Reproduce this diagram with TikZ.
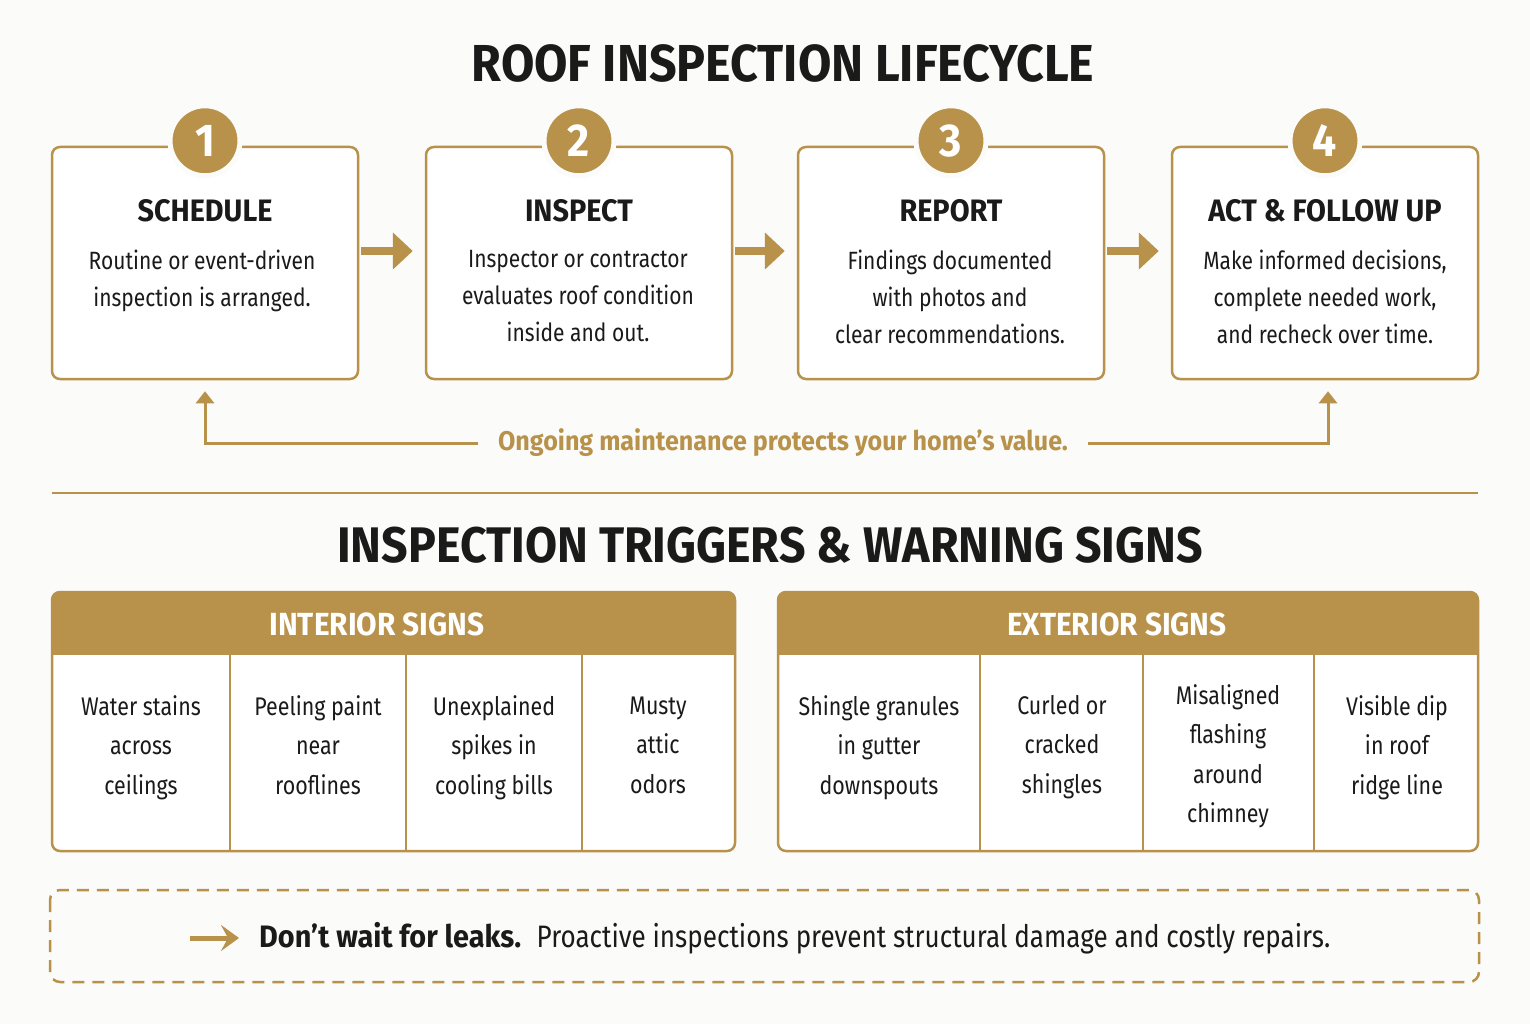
\documentclass[tikz,border=0pt]{standalone}
\usepackage{fontspec}
\setmainfont{Fira Sans}[FakeStretch=0.84, BoldFeatures={FakeStretch=0.93}]
\usetikzlibrary{arrows.meta,positioning}
\definecolor{gold}{RGB}{184,146,74}
\definecolor{ink}{RGB}{26,26,26}
\definecolor{paper}{RGB}{251,251,250}
\newcommand{\fs}[2]{\fontsize{#1}{#2}\selectfont}

\begin{document}
\begin{tikzpicture}[x=1pt,y=-1pt,
  stepbox/.style={draw=gold, line width=2.5pt, fill=white, rounded corners=8pt,
    minimum width=306pt, minimum height=232pt},
  numdot/.style={circle, fill=gold, draw=paper, line width=5pt, minimum size=70pt,
    inner sep=0pt, text=white, font=\bfseries\fs{46}{46}},
  steptitle/.style={text=ink, font=\bfseries\fs{31}{31}},
  steptext/.style={text=ink, align=center, anchor=north, inner sep=0pt, font=\fs{25}{37}},
  flow/.style={gold, line width=8pt, -{Triangle[length=20pt,width=36pt]}},
  loopline/.style={gold, line width=3pt, -{Triangle[length=12pt,width=18pt]}},
  heading/.style={text=ink, font=\bfseries\fs{52}{52}},
  bandtext/.style={text=white, font=\bfseries\fs{32}{32}},
  signtext/.style={text=ink, align=center, anchor=north, inner sep=0pt, font=\fs{25.5}{39.5}}]

\useasboundingbox (0,0) rectangle (1530,1024);
\fill[paper] (0,0) rectangle (1530,1024);

\node[heading] (title1) at (783,63) {ROOF INSPECTION LIFECYCLE};

% lifecycle steps
\node[stepbox] (b1) at (205,263) {};
\node[stepbox] (b2) at (579,263) {};
\node[stepbox] (b3) at (951,263) {};
\node[stepbox] (b4) at (1325,263) {};

\foreach \b/\n in {b1/1,b2/2,b3/3,b4/4}
  \node[numdot] (n\n) at ([yshift=5pt]\b.north) {\n};

\node[steptitle] (t1) at (205,211) {SCHEDULE};
\node[steptitle] (t2) at (579,211) {INSPECT};
\node[steptitle] (t3) at (951,211) {REPORT};
\node[steptitle] (t4) at (1325,211) {ACT \& FOLLOW UP};

\node[steptext] (d1) at (202,250) {Routine or event-driven\\inspection is arranged.};
\node[steptext] (d2) at (578,250) {Inspector or contractor\\evaluates roof condition\\inside and out.};
\node[steptext] (d3) at (950,250) {Findings documented\\with photos and\\clear recommendations.};
\node[steptext] (d4) at (1325,250) {Make informed decisions,\\complete needed work,\\and recheck over time.};

\draw[flow, shorten <=2pt, shorten >=12pt] ([yshift=12pt]b1.east) -- ([yshift=12pt]b2.west);
\draw[flow, shorten <=2pt, shorten >=12pt] ([yshift=12pt]b2.east) -- ([yshift=12pt]b3.west);
\draw[flow, shorten <=2pt, shorten >=12pt] ([yshift=12pt]b3.east) -- ([yshift=12pt]b4.west);

% maintenance loop
\node[text=gold, font=\bfseries\fs{27}{27}, inner sep=20pt] (loop) at (783,443)
  {Ongoing maintenance protects your home’s value.};
\coordinate (loopL) at (205,443);
\coordinate (loopR) at (1328,443);
\draw[loopline] (loop.west) -- (loopL) -- ([yshift=-11pt]b1.south);
\draw[loopline] (loop.east) -- (loopR) -- ([yshift=-11pt]b4.south -| loopR);

\draw[gold, line width=2pt] (52,493) -- (1478,493);

\node[heading, font=\bfseries\fs{50}{50}] (title2) at (770,545) {INSPECTION TRIGGERS \& WARNING SIGNS};

% interior signs
\fill[white, rounded corners=8pt] (52,592) rectangle (735,851);
\fill[gold, rounded corners=8pt] (52,592) rectangle (735,640);
\fill[gold] (52,620) rectangle (735,655);
\draw[gold, line width=2.5pt] (230,655) -- (230,851) (406,655) -- (406,851) (582,655) -- (582,851);
\draw[gold, line width=2.5pt, rounded corners=8pt] (52,592) rectangle (735,851);
\node[bandtext] (inthead) at (377,624) {INTERIOR SIGNS};

\node[signtext] (i1) at (141,695) {Water stains\\across\\ceilings};
\node[signtext] (i2) at (318,695) {Peeling paint\\near\\rooflines};
\node[signtext] (i3) at (494,695) {Unexplained\\spikes in\\cooling bills};
\node[signtext] (i4) at (658,695) {\vphantom{l}Musty\\attic\\odors};

% exterior signs
\fill[white, rounded corners=8pt] (778,592) rectangle (1478,851);
\fill[gold, rounded corners=8pt] (778,592) rectangle (1478,640);
\fill[gold] (778,620) rectangle (1478,655);
\draw[gold, line width=2.5pt] (980,655) -- (980,851) (1143,655) -- (1143,851) (1314,655) -- (1314,851);
\draw[gold, line width=2.5pt, rounded corners=8pt] (778,592) rectangle (1478,851);
\node[bandtext] (exthead) at (1117,624) {EXTERIOR SIGNS};

\node[signtext] (e1) at (879,695) {Shingle granules\\in gutter\\downspouts};
\node[signtext] (e2) at (1062,695) {Curled or\\cracked\\shingles};
\node[signtext] (e3) at (1228,684) {Misaligned\\flashing\\around\\chimney};
\node[signtext] (e4) at (1397,695) {Visible dip\\in roof\\ridge line};

% closing note
\draw[gold, line width=2.5pt, dash pattern=on 12pt off 8pt, rounded corners=10pt]
  (50,890) rectangle (1479,982);
\node[text=ink, anchor=west, inner sep=0pt, font=\fs{31}{31}] (note) at (259,938)
  {\textbf{Don’t wait for leaks.}\enspace Proactive inspections prevent structural damage and costly repairs.};
\coordinate (noteS) at (190,938);
\draw[gold, line width=5pt, -{Stealth[length=18pt,width=26pt,inset=7pt]}] (noteS) -- ([xshift=-20pt]note.west);
\end{tikzpicture}
\end{document}
